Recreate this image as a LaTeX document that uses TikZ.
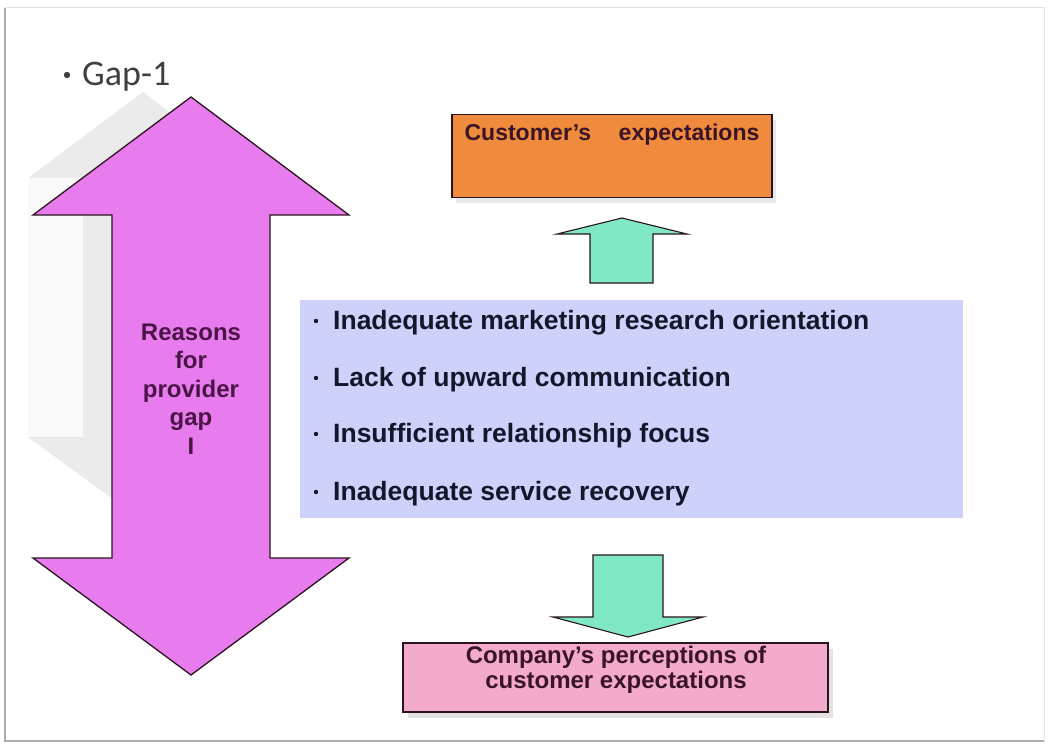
\documentclass[tikz,border=0pt]{standalone}
\usepackage{fontspec}
\setmainfont{Liberation Sans}
\newfontfamily\gapfont{Carlito}

\definecolor{pinkarrow}{HTML}{E87CEE}
\definecolor{orangebox}{HTML}{F08A3C}
\definecolor{tealarrow}{HTML}{80E8C4}
\definecolor{lavender}{HTML}{CED1FA}
\definecolor{pinkbox}{HTML}{F4AACB}
\definecolor{reasontext}{HTML}{4A1446}
\definecolor{boxtext}{HTML}{3A1528}
\definecolor{listtext}{HTML}{16162A}
\definecolor{outline}{HTML}{2A1420}

\tikzset{
  outlined/.style={draw=outline, line width=1.3bp},
  listitem/.style={anchor=base west, inner sep=0pt, text=listtext,
    font=\bfseries\fontsize{26.5bp}{30bp}\selectfont},
  listdot/.style={fill=listtext},
  boxlabel/.style={text=boxtext, font=\bfseries\fontsize{24bp}{25bp}\selectfont, align=center, inner sep=0pt}
}

\begin{document}
\begin{tikzpicture}[x=1bp,y=-1bp]
\useasboundingbox (0,0) rectangle (1048,744);
\fill[white] (0,0) rectangle (1048,744);

% slide frame
\draw[gray!22, line width=1bp] (5,8) -- (1044,8) -- (1044,741);
\draw[gray!65, line width=1.5bp] (5,8) -- (5,741) -- (1044,741);

% title
\fill[darkgray] (67,75) circle (3.2bp);
\node[anchor=base west, inner sep=0pt, text=darkgray,
      font=\gapfont\fontsize{36bp}{40bp}\selectfont] (gap) at (82,86) {Gap-1};

% grey extrusion behind the double arrow
\fill[gray!5] (28,178) rectangle (83,437);
\fill[gray!16] (143,92) -- (230,158) -- (230,585) -- (28,437) -- (83,437)
  -- (83,178) -- (28,178) -- cycle;

% double-headed arrow
\filldraw[fill=pinkarrow, outlined] (191,97) -- (349,215) -- (270,215) -- (270,558)
  -- (349,558) -- (191,675) -- (33,558) -- (112,558) -- (112,215) -- (33,215) -- cycle;
\node[align=center, inner sep=0pt, text=reasontext,
      font=\bfseries\fontsize{24bp}{28.5bp}\selectfont] (reasons) at (191,389)
      {Reasons\\for\\provider\\gap\\I};

% customer's expectations
\fill[gray!18] (456,120) rectangle (776,203);
\node[outlined, fill=orangebox, minimum width=320bp, minimum height=83bp,
      inner sep=0pt] (cust) at (612,156) {};
\node[text=boxtext, inner sep=0pt, anchor=base,
      font=\bfseries\fontsize{23bp}{25bp}\selectfont] (custlabel) at (612,140)
      {Customer's\hspace{1.2em}expectations};

% upward block arrow
\filldraw[fill=tealarrow, outlined, line width=1.1bp] (622,218) -- (687,234) -- (653,234)
  -- (653,283) -- (590,283) -- (590,234) -- (557,234) -- cycle;

% reasons list
\fill[lavender] (300,300) rectangle (963,518);
\node[inner sep=0pt, minimum width=663bp, minimum height=218bp] (list) at (631.5,409) {};
\foreach \ty/\txt [count=\i] in {329/Inadequate marketing research orientation,
    386/Lack of upward communication,
    442/Insufficient relationship focus,
    500/Inadequate service recovery}{
  \fill[listdot] (316,\ty-8) circle (2.2bp);
  \node[listitem] (item\i) at (333,\ty) {\txt};
}

% downward block arrow
\filldraw[fill=tealarrow, outlined, line width=1.1bp] (593,555) -- (663,555) -- (663,617)
  -- (703,617) -- (628,637) -- (553,617) -- (593,617) -- cycle;

% company's perceptions
\fill[gray!22] (408,649) rectangle (833,718);
\node[outlined, fill=pinkbox, minimum width=425bp, minimum height=69bp,
      inner sep=0pt] (comp) at (615.5,677.5) {};
\node[boxlabel] (complabel) at (616,670)
      {Company's perceptions of\\customer expectations};
\end{tikzpicture}
\end{document}
